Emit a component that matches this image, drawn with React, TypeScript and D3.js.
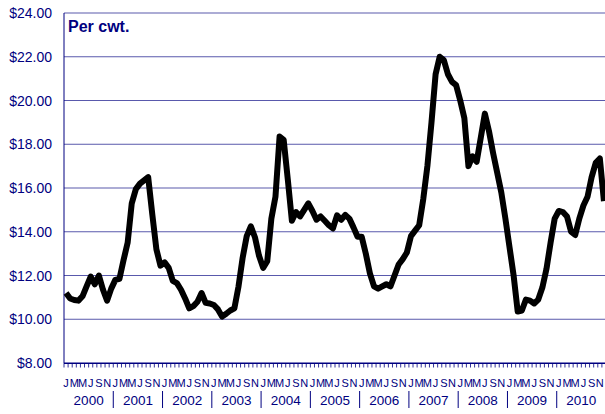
import React from 'react';
import * as d3 from 'd3';

const years = ['2000', '2001', '2002', '2003', '2004', '2005', '2006', '2007', '2008', '2009', '2010'];
const monthLetters = ['J', 'F', 'M', 'A', 'M', 'J', 'J', 'A', 'S', 'O', 'N', 'D'];
const yTicks = [8, 10, 12, 14, 16, 18, 20, 22, 24];
const yLabel = 'Per cwt.';

// Monthly prices, Jan 2000 - Dec 2010 ($ per cwt.)
const prices2000 = [11.2, 10.95, 10.88, 10.85, 11.05, 11.5, 11.95, 11.6, 12.0, 11.35, 10.85, 11.4];
const prices2001 = [11.8, 11.85, 12.7, 13.5, 15.3, 15.95, 16.2, 16.35, 16.5, 14.8, 13.2, 12.45];
const prices2002 = [12.6, 12.35, 11.75, 11.65, 11.35, 10.95, 10.5, 10.6, 10.8, 11.2, 10.75, 10.72];
const prices2003 = [10.65, 10.45, 10.12, 10.25, 10.4, 10.5, 11.5, 12.8, 13.8, 14.25, 13.75, 12.9];
const prices2004 = [12.35, 12.65, 14.6, 15.6, 18.35, 18.2, 16.4, 14.5, 14.9, 14.7, 15.0, 15.3];
const prices2005 = [14.95, 14.55, 14.7, 14.5, 14.3, 14.15, 14.75, 14.55, 14.77, 14.6, 14.2, 13.77];
const prices2006 = [13.77, 13.0, 12.1, 11.5, 11.4, 11.5, 11.6, 11.5, 12.0, 12.5, 12.75, 13.05];
const prices2007 = [13.8, 14.05, 14.3, 15.5, 17.0, 19.0, 21.2, 22.0, 21.85, 21.2, 20.85, 20.7];
const prices2008 = [20.0, 19.2, 17.0, 17.45, 17.2, 18.3, 19.4, 18.6, 17.6, 16.7, 15.8, 14.6];
const prices2009 = [13.3, 12.0, 10.35, 10.4, 10.9, 10.85, 10.72, 10.9, 11.45, 12.3, 13.5, 14.6];
const prices2010 = [14.95, 14.9, 14.7, 14.0, 13.85, 14.6, 15.2, 15.6, 16.5, 17.15, 17.35, 15.4];

const prices = [
  ...prices2000, ...prices2001, ...prices2002, ...prices2003, ...prices2004, ...prices2005,
  ...prices2006, ...prices2007, ...prices2008, ...prices2009, ...prices2010,
];

const NAVY = '#000080';
const FONT = '"Liberation Sans", Arial, sans-serif';

export default function App() {
  const W = 605;
  const H = 414;
  const left = 64;
  const right = 606;
  const top = 13;
  const bottom = 363;

  const months = d3.range(prices.length);
  const x = d3.scaleBand<number>().domain(months).range([left, right]).padding(0);
  const y = d3.scaleLinear().domain([8, 24]).range([bottom, top]);
  const cx = (i: number) => (x(i) as number) + x.bandwidth() / 2;

  const line = d3
    .line<number>()
    .x((_, i) => cx(i))
    .y((d) => y(d));

  const yearStarts = years.map((_, k) => x(k * 12) as number);
  const bw = x.bandwidth();

  return (
    <svg
      width={W}
      height={H}
      style={{ position: 'fixed', left: 0, top: 0, background: '#fff' }}
      fontFamily={FONT}
    >
      {/* gridlines */}
      {yTicks.map((t) => (
        <line key={'g' + t} x1={left} x2={W + 2} y1={y(t)} y2={y(t)} stroke={NAVY} strokeWidth={1} strokeOpacity={t === 8 ? 1 : 0.65} />
      ))}
      {/* y labels */}
      {yTicks.map((t) => (
        <text key={'yl' + t} x={52} y={y(t)} dy="0.36em" textAnchor="end" fontSize={14} fill={NAVY}>
          {'$' + t.toFixed(2)}
        </text>
      ))}
      {/* left axis */}
      <line x1={left} x2={left} y1={top} y2={bottom} stroke={NAVY} strokeWidth={1} />
      {/* bottom axis */}
      <line x1={left} x2={W + 2} y1={bottom + 0.5} y2={bottom + 0.5} stroke={NAVY} strokeWidth={1.2} />
      {/* month ticks */}
      {months.map((i) => (
        <line key={'t' + i} x1={x(i) as number} x2={x(i) as number} y1={bottom} y2={bottom + 4.5} stroke={NAVY} strokeWidth={0.8} />
      ))}
      {/* month letters */}
      {months
        .filter((i) => i % 2 === 0)
        .map((i) => (
          <text key={'m' + i} x={cx(i)} y={387} textAnchor="middle" fontSize={11} fill={NAVY}>
            {monthLetters[i % 12]}
          </text>
        ))}
      {/* year separators */}
      {yearStarts.slice(1).map((xs, k) => (
        <line key={'s' + k} x1={xs} x2={xs} y1={391} y2={408} stroke={NAVY} strokeWidth={1} />
      ))}
      {/* year labels */}
      {years.map((yr, k) => (
        <text key={'y' + yr} x={yearStarts[k] + bw * 6} y={405} textAnchor="middle" fontSize={13.5} fill={NAVY}>
          {yr}
        </text>
      ))}
      {/* unit label */}
      <text x={68} y={32} fontSize={16} fontWeight="bold" fill={NAVY}>
        {yLabel}
      </text>
      {/* price line */}
      <path d={line(prices) || ''} fill="none" stroke="#000" strokeWidth={6} strokeLinejoin="round" strokeLinecap="butt" />
    </svg>
  );
}
